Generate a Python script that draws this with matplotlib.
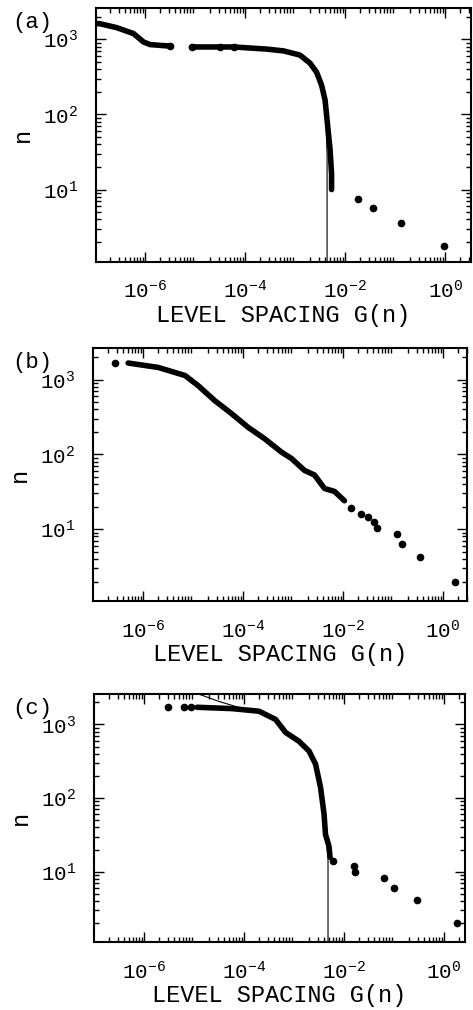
import numpy as np
import matplotlib.pyplot as plt
from matplotlib.ticker import LogLocator, FixedLocator, NullFormatter

plt.rcParams['font.family'] = ['Liberation Mono', 'DejaVu Sans Mono']
plt.rcParams['mathtext.fontset'] = 'custom'
plt.rcParams['mathtext.rm'] = 'Liberation Mono'
plt.rcParams['mathtext.it'] = 'Liberation Mono'

# ---- panel (a) data: log10 of G(n) and n ----
a_seg1_lg = [-6.98, -6.9, -6.57, -6.23, -6.03, -5.9, -5.5]
a_seg1_n = [1620, 1610, 1430, 1190, 920, 850, 810]
a_seg2_lg = [-5.07, -4.5, -4.23, -3.57, -3.23, -2.9, -2.7, -2.57, -2.47, -2.4, -2.35, -2.3, -2.27, -2.27]
a_seg2_n = [790, 790, 790, 740, 700, 615, 480, 365, 245, 155, 72, 34, 16, 10]
a_tail_lg = [-5.5, -5.07, -4.5, -4.23, -1.74, -1.44, -0.88, -0.02]
a_tail_n = [810, 790, 790, 790, 7.4, 5.6, 3.6, 1.8]
a_fit_lg = [-2.4, -2.36, -2.36]
a_fit_n = [155, 30, 1.0]

# ---- panel (b) ----
b_curve_lg = [-6.3, -5.7, -5.16, -4.9, -4.57, -4.23, -3.9, -3.57, -3.23, -3.03,
              -2.77, -2.57, -2.37, -2.17, -1.97]
b_curve_n = [1660, 1450, 1130, 830, 525, 350, 230, 162, 107, 88, 61, 53, 35, 32, 24]
b_tail_lg = [-6.56, -1.83, -1.63, -1.5, -1.37, -1.31, -0.91, -0.81, -0.45, 0.24]
b_tail_n = [1660, 19, 16, 14.5, 12.6, 10.5, 8.6, 6.3, 4.2, 2.0]

# ---- panel (c) ----
c_curve_lg = [-4.94, -4.24, -3.7, -3.37, -3.17, -2.9, -2.7, -2.57, -2.47, -2.4, -2.37, -2.3, -2.28]
c_curve_n = [1710, 1640, 1510, 1170, 780, 590, 435, 290, 140, 61, 32, 22, 15.7]
c_tail_lg = [-5.52, -5.2, -5.06, -2.22, -1.81, -1.79, -1.2, -1.0, -0.53, 0.27]
c_tail_n = [1710, 1710, 1710, 13.8, 12, 10, 8.3, 6.1, 4.1, 2.0]
c_fit_lg = [-4.94, -4.5, -4.1, -3.7, -3.37, -3.17, -2.9, -2.7, -2.57, -2.47, -2.4, -2.37, -2.32, -2.32]
c_fit_n = [2630, 2050, 1700, 1510, 1170, 780, 590, 435, 290, 140, 61, 32, 16, 1.0]

panels = [
    dict(tag='(a)', rect=[0.203, 0.741, 0.793, 0.251],
         curves=[(a_seg1_lg, a_seg1_n), (a_seg2_lg, a_seg2_n)],
         tail=(a_tail_lg, a_tail_n), fit=(a_fit_lg, a_fit_n), xr=(-6.98, 0.52)),
    dict(tag='(b)', rect=[0.197, 0.405, 0.790, 0.250],
         curves=[(b_curve_lg, b_curve_n)],
         tail=(b_tail_lg, b_tail_n), fit=None, xr=(-7.0, 0.48)),
    dict(tag='(c)', rect=[0.199, 0.067, 0.784, 0.246],
         curves=[(c_curve_lg, c_curve_n)],
         tail=(c_tail_lg, c_tail_n), fit=(c_fit_lg, c_fit_n), xr=(-7.0, 0.42)),
]

fig = plt.figure(figsize=(4.73, 10.10), dpi=100)

for p in panels:
    ax = fig.add_axes(p['rect'])
    ax.set_xscale('log')
    ax.set_yscale('log')
    if p['fit'] is not None:
        ax.plot(10.0 ** np.array(p['fit'][0]), p['fit'][1], color='black', lw=0.8)
    for lg, n in p['curves']:
        ax.plot(10.0 ** np.array(lg), n, color='black', lw=4.0,
                solid_capstyle='round', solid_joinstyle='round')
    ax.plot(10.0 ** np.array(p['tail'][0]), p['tail'][1], 'o', color='black', ms=4.5)

    ax.set_xlim(10 ** p['xr'][0], 10 ** p['xr'][1])
    ax.set_ylim(1.1, 2600)

    ax.xaxis.set_major_locator(FixedLocator([10.0 ** k for k in range(-7, 1)]))
    ax.xaxis.set_minor_locator(LogLocator(base=10, subs=np.arange(2, 10), numticks=20))
    ax.set_xticks([1e-6, 1e-4, 1e-2, 1e0], minor=False)
    ax.set_xticklabels([r'$10^{-6}$', r'$10^{-4}$', r'$10^{-2}$', r'$10^{0}$'])
    ax.xaxis.set_minor_formatter(NullFormatter())
    ax.set_yticks([10, 100, 1000])
    ax.set_yticklabels([r'$10^{1}$', r'$10^{2}$', r'$10^{3}$'])
    ax.yaxis.set_minor_locator(LogLocator(base=10, subs=np.arange(2, 10), numticks=20))
    ax.yaxis.set_minor_formatter(NullFormatter())

    ax.tick_params(which='both', direction='in', top=True, right=True, width=1.0)
    ax.tick_params(which='major', length=7, labelsize=15, pad=13)
    ax.tick_params(which='minor', length=3.5)
    for s in ax.spines.values():
        s.set_linewidth(1.5)

    ax.set_xlabel('LEVEL SPACING G(n)', fontsize=17, labelpad=1)
    ax.set_ylabel('n', fontsize=17, labelpad=6)

    x0, y0, w, h = p['rect']
    fig.text(0.026, y0 + h - 0.014, p['tag'], fontsize=16, ha='left', va='center')

fig.savefig('out.png', dpi=100)
